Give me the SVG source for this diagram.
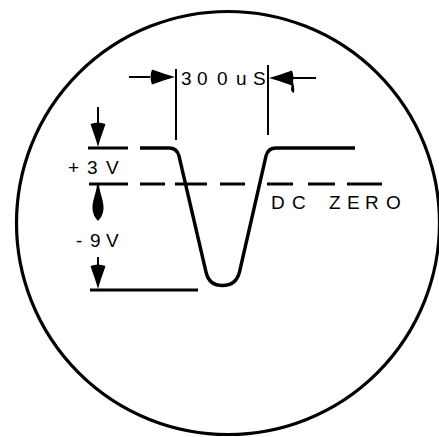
<svg xmlns="http://www.w3.org/2000/svg" width="439" height="437" viewBox="0 0 439 437">
<style>
.ln{stroke:#000;fill:none;stroke-linecap:butt}
.thk{stroke-width:3}
.thn{stroke-width:2}
.wave{stroke:#000;fill:none;stroke-width:3.4;stroke-linejoin:round}
.txt{font-family:"Liberation Sans",Arial,sans-serif;font-size:19px;fill:#000}
.ah{fill:#000}
</style>
<defs>
<path id="head" d="M0,0 C-2,-8 -5,-15 -7.5,-23 Q0,-26 7.5,-23 C5,-15 2,-8 0,0 Z"/>
</defs>
<rect width="439" height="437" fill="#fff"/>
<g id="screen">
<circle cx="228" cy="223" r="211.5" class="ln" stroke-width="3.2"/>
</g>
<g id="waveform">
<path class="wave" d="M140,148 H169 Q177,148 179,156 L206,272 Q209,285.5 222.5,285.5 Q236,285.5 239.5,272 L266,156 Q268,148 276,148 H355"/>
</g>
<g id="dcline">
<path class="ln thk" d="M140,184H165M175,184H207M220,184H245M267,184H293M308,184H335M347,184H382"/>
</g>
<g id="connectors">
<path class="ln thk" d="M88,148H128M89,184H128M90,290H198"/>
<path class="ln thn" d="M176,69V140M268,65V135"/>
<path class="ln thn" d="M98,107V126M98,257V268M129,77H150M290,78H316"/>
<use href="#head" class="ah" transform="translate(98,147)"/>
<use href="#head" class="ah" transform="translate(98,289)"/>
<use href="#head" class="ah" transform="translate(175,77) rotate(-90)"/>
<use href="#head" class="ah" transform="translate(269,78) rotate(90)"/>
<path class="ah" d="M292,80 Q295,86 294,93 Q292,93 291,90 Z"/>
<path class="ah" d="M97,185 L99,185 C100,194 104,201 103.5,209 Q103,216 98,221 Q93,216 92.5,209 C92,201 96,194 97,185 Z"/>
</g>
<g id="labels">
<text class="txt" x="181 197 217 236 253" y="85">300uS</text>
<text class="txt" x="68 87 106" y="174">+3V</text>
<text class="txt" x="76 90 106" y="247">-9V</text>
<text class="txt" x="271 292 310 329 347 365 386" y="209">DC ZERO</text>
</g>
</svg>
